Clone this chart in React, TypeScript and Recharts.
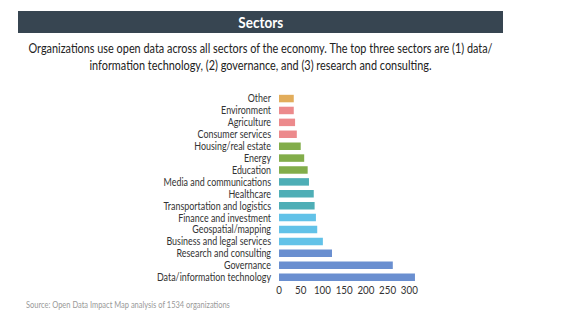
import React from "react";
import { BarChart, Bar, XAxis, YAxis, Cell } from "recharts";

const categories = [
  "Other",
  "Environment",
  "Agriculture",
  "Consumer services",
  "Housing/real estate",
  "Energy",
  "Education",
  "Media and communications",
  "Healthcare",
  "Transportation and logistics",
  "Finance and investment",
  "Geospatial/mapping",
  "Business and legal services",
  "Research and consulting",
  "Governance",
  "Data/information technology",
];
const values = [34, 34, 37, 41, 50, 58, 66, 69, 80, 82, 85, 88, 101, 122, 262, 313];
const groups = [
  "other", "consumer", "consumer", "consumer",
  "housing", "housing", "housing",
  "media", "media", "media",
  "finance", "finance", "finance",
  "data", "data", "data",
];
const groupColors: Record<string, string> = {
  other: "#e2ad5b",
  consumer: "#ec8a8c",
  housing: "#82ad4a",
  media: "#4eaeb6",
  finance: "#62c2e8",
  data: "#6a8fd0",
};
const xTicks = [0, 50, 100, 150, 200, 250, 300];

const data = categories.map((c, i) => ({ name: c, value: values[i], group: groups[i] }));

const FONT = "Lato, 'Open Sans', sans-serif";
const SX = 0.85;

const YTick = (props: any) => {
  const { x, y, payload } = props;
  return (
    <text
      transform={`translate(${x},${y}) scale(${SX},1)`}
      x={0}
      y={0}
      dy="0.355em"
      textAnchor="end"
      fontSize={10.5}
      fill="#333"
      fontFamily={FONT}
    >
      {payload.value}
    </text>
  );
};

const XTick = (props: any) => {
  const { x, y, payload } = props;
  return (
    <text
      transform={`translate(${x},${y}) scale(${SX},1)`}
      x={0}
      y={0}
      dy="0.71em"
      textAnchor="middle"
      fontSize={11.5}
      fill="#333"
      fontFamily={FONT}
    >
      {payload.value}
    </text>
  );
};

export default function App() {
  return (
    <div style={{ position: "absolute", left: 0, top: 0, width: 570, height: 328, background: "#fff", fontFamily: FONT, overflow: "hidden" }}>
      <div
        style={{
          position: "absolute", left: 18, top: 11, width: 485, height: 22,
          background: "#374551", color: "#fff", fontWeight: 700, fontSize: 15.5,
          display: "flex", alignItems: "center", justifyContent: "center",
        }}
      >
        <span style={{ display: "inline-block", transform: "scaleX(0.87)" }}>Sectors</span>
      </div>
      <div
        style={{
          position: "absolute", left: -100, top: 40, width: 721, textAlign: "center",
          fontSize: 12.8, lineHeight: "17px", color: "#222", whiteSpace: "nowrap",
          transform: `scaleX(${SX})`, transformOrigin: "50% 0px",
        }}
      >
        Organizations use open data across all sectors of the economy. The top three sectors are (1) data/
        <br />
        information technology, (2) governance, and (3) research and consulting.
      </div>
      <div
        style={{
          position: "absolute", left: 26, top: 300, fontSize: 8.5, color: "#999",
          whiteSpace: "nowrap", transform: "scaleX(0.88)", transformOrigin: "0 0",
        }}
      >
        Source: Open Data Impact Map analysis of 1534 organizations
      </div>
      <div style={{ position: "absolute", left: 0, top: 0 }}>
        <BarChart
          width={570}
          height={328}
          data={data}
          layout="vertical"
          margin={{ top: 92.8, right: 152, bottom: 24.7, left: 0 }}
        >
          <XAxis
            type="number"
            domain={[0, 320]}
            ticks={xTicks}
            axisLine={false}
            tickLine={false}
            tickSize={0}
            tickMargin={3}
            height={20}
            interval={0}
            tick={<XTick />}
          />
          <YAxis
            type="category"
            dataKey="name"
            width={279}
            axisLine={false}
            tickLine={false}
            interval={0}
            tick={<YTick />}
          />
          <Bar dataKey="value" barSize={7.5} isAnimationActive={false}>
            {data.map((d, i) => (
              <Cell key={i} fill={groupColors[d.group]} />
            ))}
          </Bar>
        </BarChart>
      </div>
    </div>
  );
}
